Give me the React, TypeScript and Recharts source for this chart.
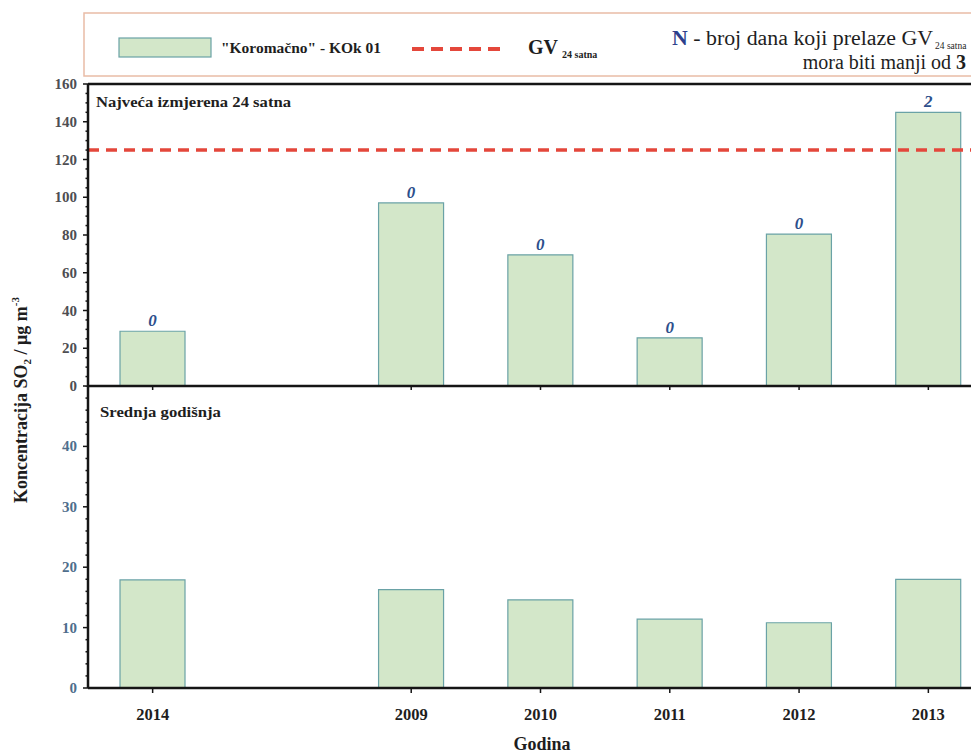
import React from 'react';
import { BarChart, Bar, XAxis, YAxis, ReferenceLine, LabelList } from 'recharts';

const categories = ['2014', '', '2009', '2010', '2011', '2012', '2013'];
const max24h = [29, null, 97, 69.5, 25.5, 80.5, 145];
const daysOver = [0, null, 0, 0, 0, 0, 2];
const annualMean = [17.9, null, 16.3, 14.6, 11.4, 10.8, 18.0];
const limit24h = 125;
const topTickLabels = [0, 20, 40, 60, 80, 100, 120, 140, 160];
const bottomTickLabels = [0, 10, 20, 30, 40];

const topData = categories.map((c, i) => ({ year: c, v: max24h[i], n: daysOver[i] }));
const bottomData = categories.map((c, i) => ({ year: c, v: annualMean[i] }));

const topTicks = Array.from({ length: 33 }, (_, i) => i * 5);
const bottomTicks = Array.from({ length: 26 }, (_, i) => i * 2);

const FONT = '"Liberation Serif", "Times New Roman", serif';
const BAR_FILL = '#d3e7c9';
const BAR_STROKE = '#6aa2a6';
const AXIS = '#151515';
const TXT = '#1e1e1e';

const makeYTick = (majors: number[], color: string) => (p: any) => {
  const v = p.payload.value;
  const isMajor = majors.includes(v);
  return (
    <g>
      <line x1={p.x - (isMajor ? 5 : 2.5)} x2={p.x} y1={p.y} y2={p.y} stroke={AXIS} strokeWidth={1.5} />
      {isMajor && (
        <text x={p.x - 11} y={p.y + 5} textAnchor="end" fontFamily={FONT} fontWeight="bold" fontSize={15} fill={color}>
          {v}
        </text>
      )}
    </g>
  );
};

const topXTick = (p: any) =>
  p.payload.value ? <line x1={p.x} x2={p.x} y1={p.y} y2={p.y + 4} stroke={AXIS} strokeWidth={1.5} /> : <g />;

const bottomXTick = (p: any) =>
  p.payload.value ? (
    <g>
      <line x1={p.x} x2={p.x} y1={p.y} y2={p.y + 5} stroke={AXIS} strokeWidth={1.5} />
      <text x={p.x} y={p.y + 32} textAnchor="middle" fontFamily={FONT} fontWeight="bold" fontSize={16.5} fill={TXT}>
        {p.payload.value}
      </text>
    </g>
  ) : (
    <g />
  );

const nLabel = (p: any) => {
  if (p.value === null || p.value === undefined) return null;
  return (
    <text x={p.x + p.width / 2} y={p.y - 5} textAnchor="middle" fontFamily={FONT} fontStyle="italic" fontWeight="bold" fontSize={17} fill="#2d4f8c">
      {p.value}
    </text>
  );
};

export default function App() {
  return (
    <div style={{ position: 'relative', width: 971, height: 745, overflow: 'hidden', background: '#fff' }}>
      <div style={{ position: 'absolute', left: 0, top: 378 }}>
        <BarChart width={985} height={367} data={bottomData} margin={{ top: 0, right: 0, bottom: 0, left: 0 }}>
          <XAxis dataKey="year" height={65} tickSize={0} tickMargin={0} tick={bottomXTick} axisLine={{ stroke: AXIS, strokeWidth: 2.5 }} interval={0} />
          <YAxis width={80} domain={[0, 50]} ticks={bottomTicks} interval={0} tickSize={0} tickMargin={0} tick={makeYTick(bottomTickLabels, '#4f6e8c')} axisLine={{ stroke: AXIS, strokeWidth: 2.5 }} />
          <Bar dataKey="v" barSize={65} fill={BAR_FILL} stroke={BAR_STROKE} strokeWidth={1.2} isAnimationActive={false} />
        </BarChart>
      </div>
      <div style={{ position: 'absolute', left: 0, top: 0 }}>
        <BarChart width={985} height={396} data={topData} margin={{ top: 76, right: 0, bottom: 0, left: 0 }}>
          <XAxis dataKey="year" height={18} tickSize={0} tickMargin={0} tick={topXTick} axisLine={{ stroke: AXIS, strokeWidth: 2.5 }} interval={0} />
          <YAxis width={80} domain={[0, 160]} ticks={topTicks} interval={0} tickSize={0} tickMargin={0} tick={makeYTick(topTickLabels, '#4e4e52')} axisLine={{ stroke: AXIS, strokeWidth: 2.5 }} />
          <Bar dataKey="v" barSize={65} fill={BAR_FILL} stroke={BAR_STROKE} strokeWidth={1.2} isAnimationActive={false}>
            <LabelList dataKey="n" content={nLabel} />
          </Bar>
          <ReferenceLine y={160} stroke={AXIS} strokeWidth={2.5} />
          <ReferenceLine y={limit24h} stroke="#e4473b" strokeWidth={3.5} strokeDasharray="11 7" />
        </BarChart>
      </div>
      <svg width={971} height={745} style={{ position: 'absolute', left: 0, top: 0, pointerEvents: 'none' }}>
        <rect x={76} y={5} width={920} height={63} fill="none" stroke="#e9bca6" strokeWidth={1.5} />
        <rect x={111} y={30} width={92} height={19} fill={BAR_FILL} stroke={BAR_STROKE} strokeWidth={1.2} />
        <text x={213} y={45} fontFamily={FONT} fontWeight="bold" fontSize={14.5} fill={TXT} textLength={160} lengthAdjust="spacingAndGlyphs">"Koromačno" - KOk 01</text>
        <line x1={404} x2={492} y1={41} y2={41} stroke="#e4473b" strokeWidth={4} strokeDasharray="12 7" />
        <text x={520} y={46} fontFamily={FONT} fontWeight="bold" fontSize={20} fill={TXT}>GV</text>
        <text x={554} y={50} fontFamily={FONT} fontWeight="bold" fontSize={10} fill={TXT}>24 satna</text>
        <text x={925} y={37} textAnchor="end" fontFamily={FONT} fontSize={20} fill={TXT} textLength={261} lengthAdjust="spacingAndGlyphs">
          <tspan fill="#2d3f8c" fontWeight="bold">N</tspan> - broj dana koji prelaze GV
        </text>
        <text x={927} y={41} fontFamily={FONT} fontSize={9.5} fill={TXT}>24 satna</text>
        <text x={958} y={61} textAnchor="end" fontFamily={FONT} fontSize={20} fill={TXT}>
          mora biti manji od <tspan fontWeight="bold">3</tspan>
        </text>
        <text x={88} y={99} fontFamily={FONT} fontWeight="bold" fontSize={15} fill={TXT} textLength={195} lengthAdjust="spacingAndGlyphs">Najveća izmjerena 24 satna</text>
        <text x={92} y={409} fontFamily={FONT} fontWeight="bold" fontSize={15} fill={TXT} textLength={121} lengthAdjust="spacingAndGlyphs">Srednja godišnja</text>
        <text transform="translate(19,392) rotate(-90)" textAnchor="middle" fontFamily={FONT} fontWeight="bold" fontSize={18} fill={TXT}>
          Koncentracija SO<tspan fontSize={11} dy={4}>2</tspan><tspan dy={-4}> / μg m</tspan><tspan fontSize={11} dy={-8}>-3</tspan>
        </text>
        <text x={534} y={742} textAnchor="middle" fontFamily={FONT} fontWeight="bold" fontSize={18} fill={TXT}>Godina</text>
      </svg>
    </div>
  );
}
